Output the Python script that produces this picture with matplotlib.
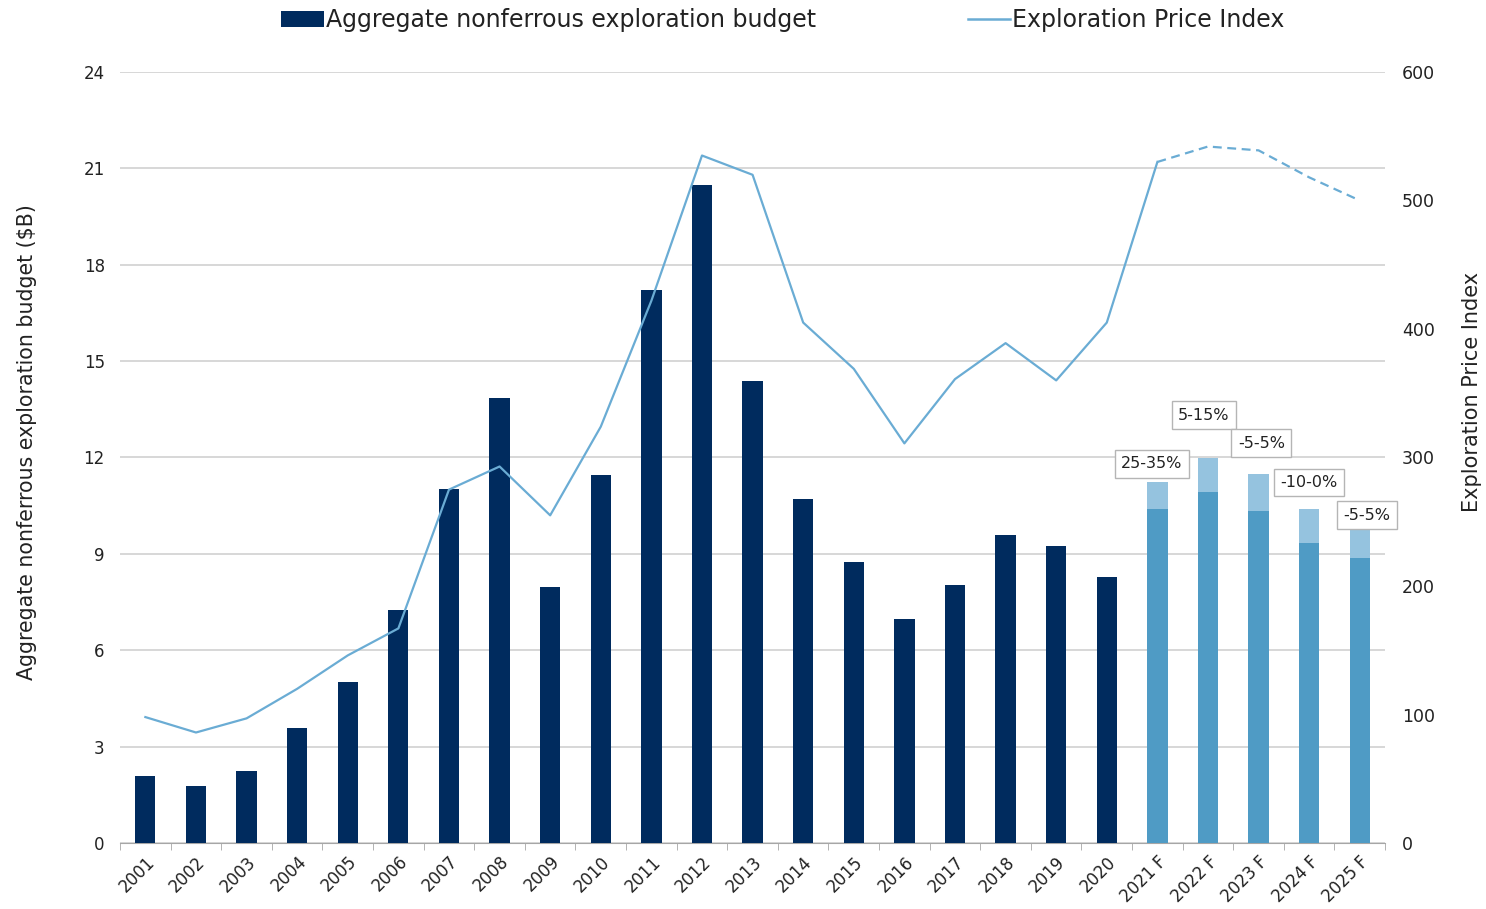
import matplotlib.pyplot as plt
from matplotlib.patches import Patch
from matplotlib.lines import Line2D

plt.rcParams['font.family'] = ['DejaVu Sans']

# ---------------------------------------------------------------- dados
anos = ['2001', '2002', '2003', '2004', '2005', '2006', '2007', '2008',
        '2009', '2010', '2011', '2012', '2013', '2014', '2015', '2016',
        '2017', '2018', '2019', '2020',
        '2021 F', '2022 F', '2023 F', '2024 F', '2025 F']
orcamento = [2.09, 1.77, 2.24, 3.58, 5.01, 7.25, 11.02, 13.85, 7.97, 11.46,
             17.21, 20.48, 14.38, 10.71, 8.75, 6.97, 8.03, 9.59, 9.25, 8.28]
previsao_min = [10.40, 10.93, 10.33, 9.34, 8.87]
previsao_max = [11.24, 11.98, 11.49, 10.40, 9.81]
faixas = ['25-35%', '5-15%', '-5-5%', '-10-0%', '-5-5%']
indice = [98, 86, 97, 120, 146, 167, 275, 293, 255, 324, 422, 535, 520,
          405, 369, 311, 361, 389, 360, 405,
          530, 542, 539, 518, 500]

# ---------------------------------------------------------------- estilo
azul_escuro = '#002b5e'
azul_medio = '#4f9bc5'
azul_claro = '#95c3df'
azul_linha = '#6aacd4'
cor_texto = '#222222'

fig = plt.figure(figsize=(14.86, 9.09), dpi=100)
eixo_1 = fig.add_axes([0.0808, 0.0726, 0.8513, 0.8482])
eixo_2 = eixo_1.twinx()

n_hist = len(orcamento)
x_hist = list(range(n_hist))
x_prev = list(range(n_hist, len(anos)))
largura = 0.4

eixo_1.bar(x_hist, orcamento, largura, color=azul_escuro, zorder=3)
eixo_1.bar(x_prev, previsao_min, largura, color=azul_medio, zorder=3)
eixo_1.bar(x_prev, [b - a for a, b in zip(previsao_min, previsao_max)],
           largura, bottom=previsao_min, color=azul_claro, zorder=3)

# caixas com as faixas de variacao
deslocamentos = [(-4, 13), (-3, 31), (2, 22), (0, 19), (5, 9)]
for x, y, txt, (dx, dy) in zip(x_prev, previsao_max, faixas, deslocamentos):
    eixo_1.annotate(txt, (x, y), xytext=(dx, dy), textcoords='offset points',
                    ha='center', va='center', fontsize=11.5, zorder=6,
                    color=cor_texto,
                    bbox=dict(boxstyle='square,pad=0.4', facecolor='white',
                              edgecolor='#b5b5b5', linewidth=1.0))

eixo_2.plot(range(n_hist + 1), indice[:n_hist + 1], color=azul_linha,
            linewidth=1.6, zorder=4)
eixo_2.plot(range(n_hist, len(anos)), indice[n_hist:], color=azul_linha,
            linewidth=1.6, linestyle=(0, (4, 2.5)), zorder=4)

eixo_1.set_xlim(-0.5, len(anos) - 0.5)
eixo_1.set_ylim(0, 24)
eixo_2.set_ylim(0, 600)
eixo_1.set_yticks(range(0, 25, 3))
eixo_2.set_yticks(range(0, 601, 100))
eixo_1.set_xticks(range(len(anos)))
eixo_1.set_xticklabels(anos, rotation=45, ha='right', rotation_mode='anchor',
                       fontsize=12, color=cor_texto)
eixo_1.set_xticks([i - 0.5 for i in range(len(anos) + 1)], minor=True)

eixo_1.grid(axis='y', color='#d4d4d4', linewidth=1.3, zorder=0)
eixo_1.set_axisbelow(True)

for eixo in (eixo_1, eixo_2):
    for lado in ('top', 'left', 'right'):
        eixo.spines[lado].set_visible(False)
    eixo.spines['bottom'].set_color('#a6a6a6')
eixo_2.spines['bottom'].set_visible(False)

eixo_1.tick_params('x', which='major', length=0, pad=7)
eixo_1.tick_params('x', which='minor', length=5, color='#a6a6a6')
eixo_1.tick_params('y', length=0, labelsize=12, labelcolor=cor_texto, pad=11)
eixo_2.tick_params('y', length=0, labelsize=12.5, labelcolor=cor_texto, pad=12)

eixo_1.set_ylabel('Aggregate nonferrous exploration budget ($B)', fontsize=14.8,
                  color=cor_texto)
eixo_2.set_ylabel('Exploration Price Index', fontsize=15, color=cor_texto)
eixo_1.yaxis.set_label_coords(-0.066, 0.52)
eixo_2.yaxis.set_label_coords(1.061, 0.585)

alcas = [Patch(facecolor=azul_escuro),
         Line2D([0], [0], color=azul_linha, linewidth=1.8)]
fig.legend(alcas, ['Aggregate nonferrous exploration budget',
                   'Exploration Price Index'],
           loc='center', bbox_to_anchor=(0.527, 0.978), ncol=2, frameon=False,
           fontsize=17, handlelength=1.8, handletextpad=0.1,
           columnspacing=6.4, handleheight=0.65, labelcolor=cor_texto)

plt.savefig('out.png', dpi=100)
